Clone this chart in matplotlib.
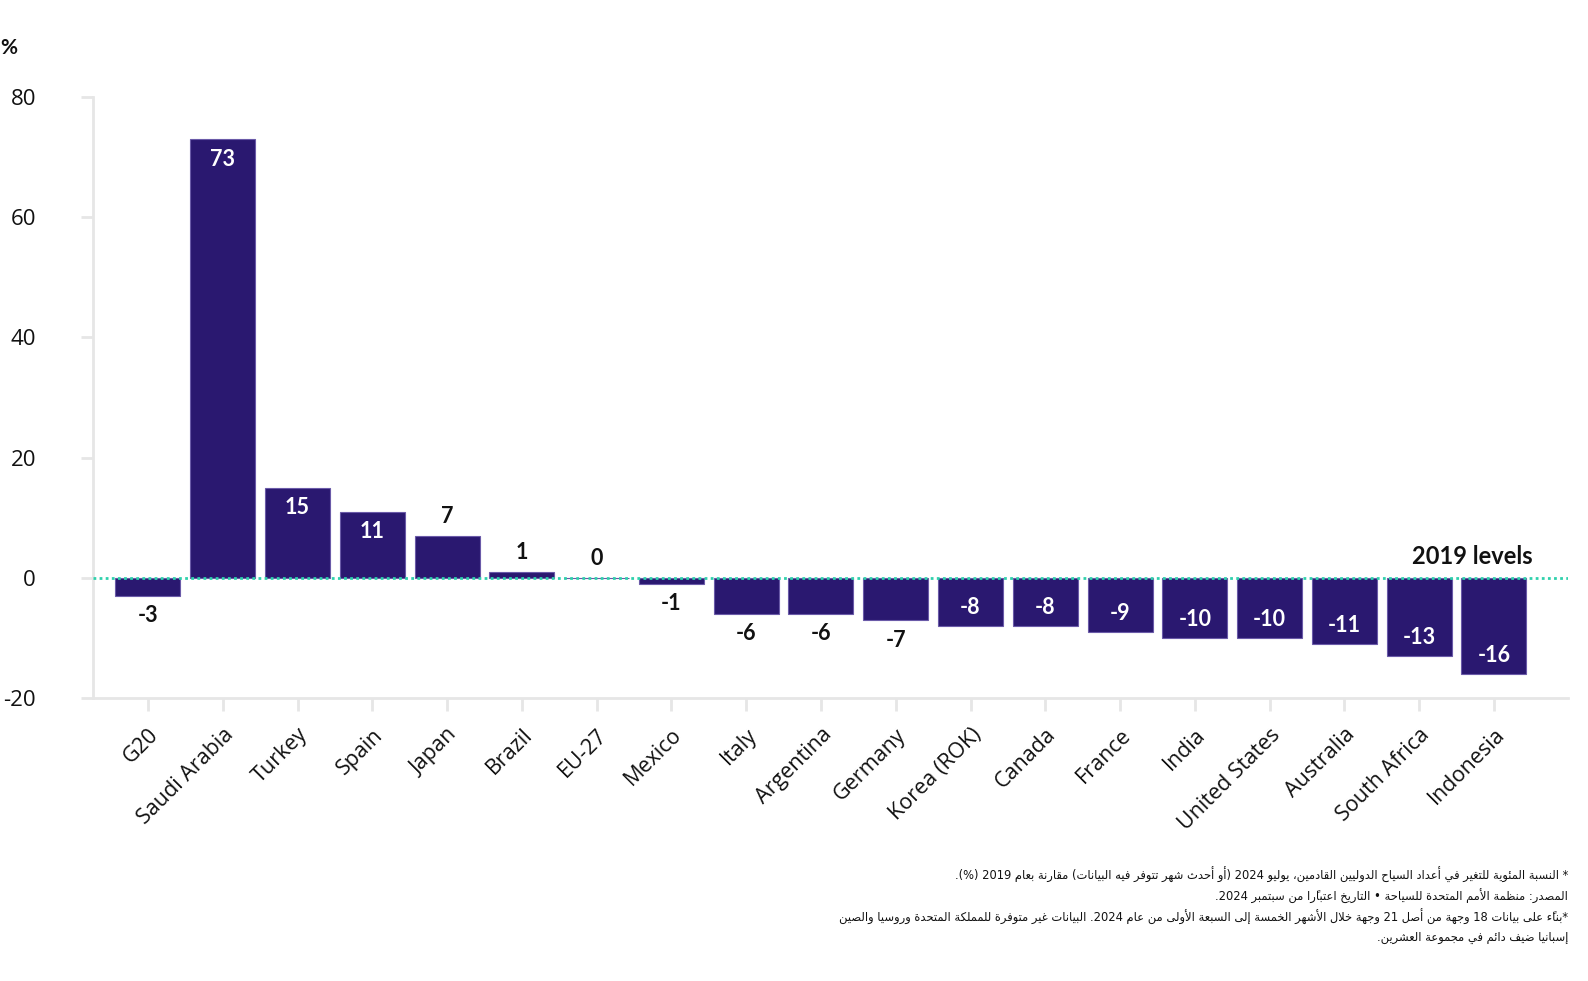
import matplotlib
matplotlib.use("Agg")
import matplotlib.pyplot as plt
from matplotlib import font_manager
from matplotlib.transforms import ScaledTranslation

# data
countries = ["G20", "Saudi Arabia", "Turkey", "Spain", "Japan", "Brazil", "EU-27",
             "Mexico", "Italy", "Argentina", "Germany", "Korea (ROK)", "Canada",
             "France", "India", "United States", "Australia", "South Africa", "Indonesia"]
values = [-3, 73, 15, 11, 7, 1, 0, -1, -6, -6, -7, -8, -8, -9, -10, -10, -11, -13, -16]
yticks = [-20, 0, 20, 40, 60, 80]

notes = [
    "* النسبة المئوية للتغير في أعداد السياح الدوليين القادمين، يوليو 2024 (أو أحدث شهر تتوفر فيه البيانات) مقارنة بعام 2019 (%).",
    "المصدر: منظمة الأمم المتحدة للسياحة • التاريخ اعتبارًا من سبتمبر 2024.",
    "*بناءً على بيانات 18 وجهة من أصل 21 وجهة خلال الأشهر الخمسة إلى السبعة الأولى من عام 2024. البيانات غير متوفرة للمملكة المتحدة وروسيا والصين",
    "إسبانيا ضيف دائم في مجموعة العشرين.",
]

# --- tiny arabic shaper + bidi (matplotlib does neither) ---
DUAL = {0x0626: 0xFE89, 0x0628: 0xFE8F, 0x062A: 0xFE95, 0x062B: 0xFE99, 0x062C: 0xFE9D,
        0x062D: 0xFEA1, 0x062E: 0xFEA5, 0x0633: 0xFEB1, 0x0634: 0xFEB5, 0x0635: 0xFEB9,
        0x0636: 0xFEBD, 0x0637: 0xFEC1, 0x0638: 0xFEC5, 0x0639: 0xFEC9, 0x063A: 0xFECD,
        0x0641: 0xFED1, 0x0642: 0xFED5, 0x0643: 0xFED9, 0x0644: 0xFEDD, 0x0645: 0xFEE1,
        0x0646: 0xFEE5, 0x0647: 0xFEE9, 0x064A: 0xFEF1}
RIGHT = {0x0622: 0xFE81, 0x0623: 0xFE83, 0x0624: 0xFE85, 0x0625: 0xFE87, 0x0627: 0xFE8D,
         0x0629: 0xFE93, 0x062F: 0xFEA9, 0x0630: 0xFEAB, 0x0631: 0xFEAD, 0x0632: 0xFEAF,
         0x0648: 0xFEED, 0x0649: 0xFEEF}
LAMALEF = {0x0622: 0xFEF5, 0x0623: 0xFEF7, 0x0625: 0xFEF9, 0x0627: 0xFEFB}
MIRROR = {"(": ")", ")": "(", "[": "]", "]": "["}


def kind(b):
    if b.startswith("LA"):
        return "R"
    o = ord(b)
    if o in DUAL:
        return "D"
    if o in RIGHT:
        return "R"
    return None


def rtl(text):
    cl = []
    for ch in text:
        if 0x064B <= ord(ch) <= 0x065F or ord(ch) == 0x0670:
            if cl:
                cl[-1][1] += ch
            continue
        cl.append([ch, ""])
    m = []
    i = 0
    while i < len(cl):
        b, mk = cl[i]
        if ord(b) == 0x0644 and i + 1 < len(cl) and ord(cl[i + 1][0]) in LAMALEF:
            m.append(["LA" + cl[i + 1][0], mk + cl[i + 1][1]])
            i += 2
        else:
            m.append([b, mk])
            i += 1
    glyphs = []
    for i, (b, mk) in enumerate(m):
        k = kind(b)
        pk = kind(m[i - 1][0]) if i > 0 else None
        nk = kind(m[i + 1][0]) if i + 1 < len(m) else None
        jp = k is not None and pk == "D"
        jn = k == "D" and nk is not None
        if b.startswith("LA"):
            g = chr(LAMALEF[ord(b[2])] + (1 if jp else 0))
        elif k == "D":
            g = chr(DUAL[ord(b)] + (3 if jp and jn else 1 if jp else 2 if jn else 0))
        elif k == "R":
            g = chr(RIGHT[ord(b)] + (1 if jp else 0))
        elif ord(b) == 0x0621:
            g = chr(0xFE80)
        else:
            g = b
        ltr = b.isascii() and b.isalnum()
        glyphs.append((g + mk, ltr))
    runs = []
    for g, ltr in glyphs:
        if runs and runs[-1][0] == ltr:
            runs[-1][1].append(g)
        else:
            runs.append([ltr, [g]])
    out = ""
    for ltr, gs in reversed(runs):
        if ltr:
            out += "".join(gs)
        else:
            out += "".join(MIRROR.get(g, g) for g in reversed(gs))
    return out


installed = {f.name for f in font_manager.fontManager.ttflist}
if "DejaVu Sans Condensed" in installed:
    note_family = ["DejaVu Sans Condensed", "DejaVu Sans"]
    note_size = 10
else:
    note_family = ["DejaVu Sans"]
    note_size = 8.3

bar_color = "#2a1870"
edge_color = "#6a5aa8"
axis_grey = "#e6e6e6"
text_dark = "#111111"

fig = plt.figure(figsize=(15.88, 9.81), dpi=100)
ax = fig.add_axes([93 / 1588, 1 - 698 / 981, (1568 - 93) / 1588, (698 - 97) / 981])

x = list(range(len(countries)))
ax.bar(x, values, width=0.87, color=bar_color, edgecolor=edge_color, linewidth=0.8, zorder=2)
ax.axhline(0, color="#2fd1ac", linestyle=(0, (1, 1.2)), linewidth=2, zorder=3)

ax.set_xlim(-0.735, 18.99)
ax.set_ylim(-20, 80)
ax.set_yticks(yticks)
ax.set_yticklabels([str(t) for t in yticks], fontsize=16, family="Open Sans", color=text_dark)
ax.set_xticks(x)
ax.set_xticklabels(countries, rotation=45, ha="right", va="top", rotation_mode="anchor",
                   fontsize=15.5, family="Open Sans", color=text_dark)
shift = ScaledTranslation(4 / 100, 0, fig.dpi_scale_trans)
for lab in ax.get_xticklabels():
    lab.set_transform(lab.get_transform() + shift)

for s in ["top", "right"]:
    ax.spines[s].set_visible(False)
for s in ["left", "bottom"]:
    ax.spines[s].set_color(axis_grey)
    ax.spines[s].set_linewidth(2)
ax.tick_params(axis="y", length=9, width=2, color=axis_grey, pad=32)
ax.tick_params(axis="x", length=9, width=2, color=axis_grey, pad=10)

for xi, v in zip(x, values):
    inside = abs(v) >= 8
    col = "white" if inside else text_dark
    if v >= 0:
        off = -14.5 if inside else 14
    else:
        off = 13 if inside else -14.5
    ax.annotate(str(v), (xi, v), xytext=(0, off), textcoords="offset points",
                ha="center", va="center", fontsize=15.5, fontweight="bold",
                family="Lato", color=col, zorder=4)

ax.text(1533 / 1588, 1 - 556 / 981, "2019 levels", transform=fig.transFigure,
        ha="right", va="center", fontsize=17, fontweight="bold", family="Lato", color=text_dark)
fig.text(0.0, 1 - 48 / 981, "%", ha="left", va="center", fontsize=15,
         fontweight="bold", family="Lato", color=text_dark)

for i, line in enumerate(notes):
    fig.text(1568 / 1588, 1 - (875 + 21 * i) / 981, rtl(line), ha="right", va="center",
             fontsize=note_size, family=note_family, color=text_dark)

fig.savefig("out.png", dpi=100)
